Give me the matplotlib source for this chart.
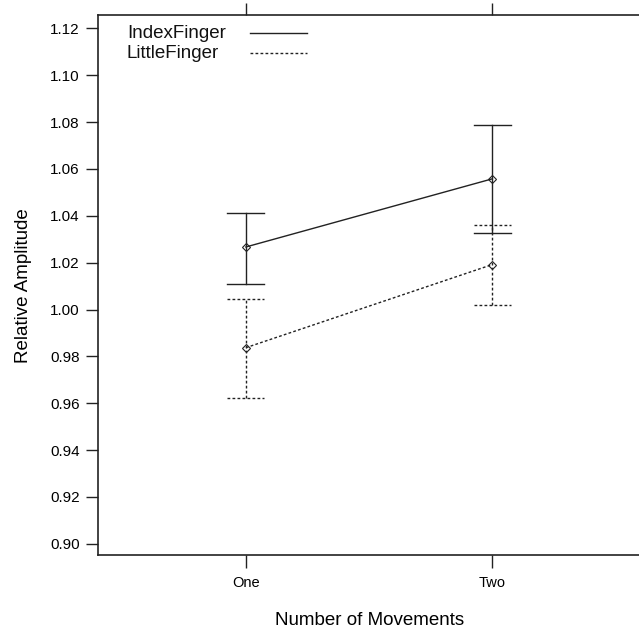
import matplotlib
matplotlib.use("Agg")
import matplotlib.pyplot as plt
from matplotlib.lines import Line2D

categories = ["One", "Two"]
series_names = ["IndexFinger", "LittleFinger"]
index_mean = [1.0267, 1.0558]
index_upper = [1.0411, 1.0787]
index_lower = [1.0109, 1.0327]
little_mean = [0.9837, 1.0192]
little_upper = [1.0047, 1.0360]
little_lower = [0.9622, 1.0018]
yticks = [0.90, 0.92, 0.94, 0.96, 0.98, 1.00, 1.02, 1.04, 1.06, 1.08, 1.10, 1.12]

plt.rcParams['font.family'] = ['Liberation Sans', 'DejaVu Sans']
W, H = 639, 628
fig = plt.figure(figsize=(W/100, H/100), dpi=100)
ax = fig.add_axes([98/W, 1-555/H, 1.0-98/W+0.002, (555-15.3)/H])

col = '#222222'
x = list(range(1, len(categories)+1))
styles = ['-', (0, (2, 1.6))]
data = [(index_mean, index_lower, index_upper), (little_mean, little_lower, little_upper)]
for (m, lo, up), ls in zip(data, styles):
    ax.plot(x, m, color=col, lw=1.0, linestyle=ls, marker='D', markersize=4,
            markerfacecolor='none', markeredgecolor=col, markeredgewidth=0.8)
    for xi, l, u in zip(x, lo, up):
        ax.plot([xi, xi], [l, u], color=col, lw=1.0, linestyle=ls)
        for yv in (l, u):
            ax.plot([xi-0.075, xi+0.075], [yv, yv], color=col, lw=1.0, linestyle=ls)

# legend (text left, line to the right, as in lattice key)
leg_y = [33, 53]
for name, ls, yy in zip(series_names, styles, leg_y):
    fig.text(127/W, 1-yy/H, name, fontsize=13.5, ha='left', va='center', color='#111111')
    fig.add_artist(Line2D([250/W, 307/W], [1-yy/H, 1-yy/H], transform=fig.transFigure,
                          color=col, lw=1.0, linestyle=ls))

ax.set_xlim(0.4, len(categories)+0.6)
ax.set_ylim(0.8952, 1.1256)
ax.set_xticks(x)
ax.set_xticklabels(categories, fontsize=10.5)
ax.set_yticks(yticks)
ax.set_yticklabels([f"{v:.2f}" for v in yticks], fontsize=11)
ax.tick_params(axis='x', direction='out', length=9, width=1, color=col, top=True, pad=6)
ax.tick_params(axis='y', direction='out', length=9, width=1, color=col, right=False, pad=4)
for s in ax.spines.values():
    s.set_color(col)
    s.set_linewidth(1.2)
ax.set_xlabel("Number of Movements", fontsize=13.5, labelpad=16)
ax.set_ylabel("Relative Amplitude", fontsize=13.5, labelpad=13)

fig.savefig("out.png", dpi=100)
